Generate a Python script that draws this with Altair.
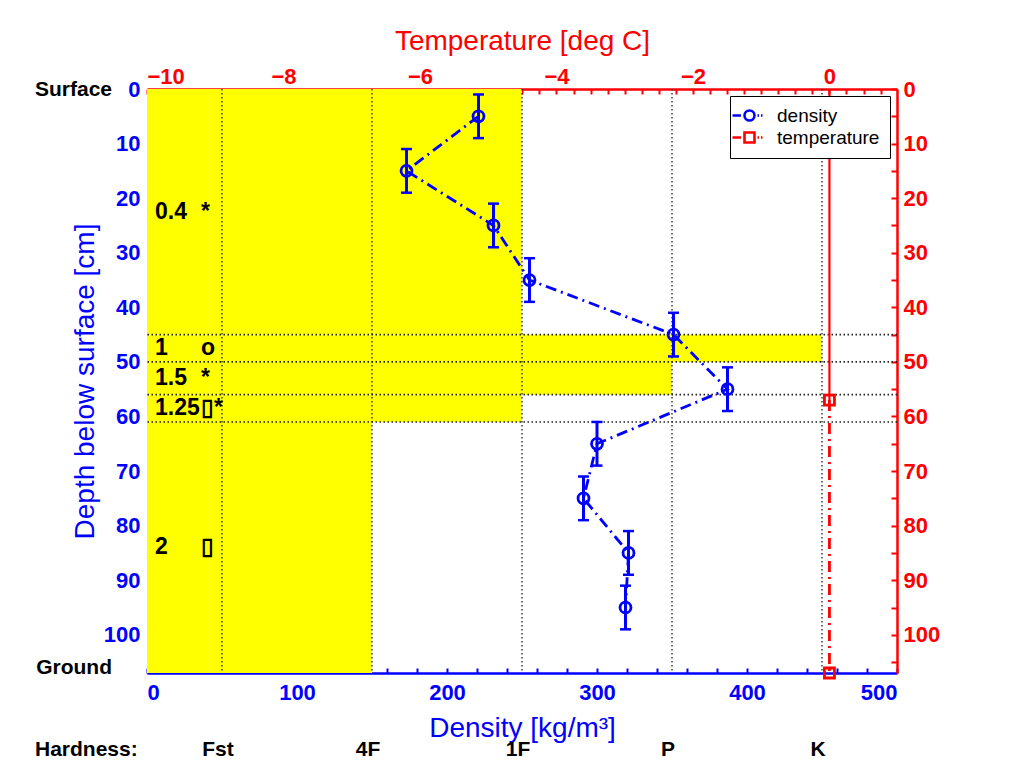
import altair as alt
import pandas as pd

# ---------------- data ----------------
depth_pts = [5, 15, 25, 35, 45, 55, 65, 75, 85, 95]
density_vals = [221, 173, 231, 255, 351, 387, 300, 291, 321, 319]
depth_err = [4, 4, 4, 4, 4, 4, 4, 4, 4, 4]

temp_depths = [57, 107]
temp_vals = [0.0, 0.0]
temp_top_depths = [0, 57]
temp_top_vals = [0.0, 0.0]

layer_top = [0, 45, 50, 56, 61]
layer_bottom = [45, 50, 56, 61, 107]
layer_hardness = [250, 450, 350, 250, 150]
grain_size = ["0.4", "1", "1.5", "1.25", "2"]
grain_shape = ["*", "o", "*", "\u25af*", "\u25af"]

hardness_names = ["Fst", "4F", "1F", "P", "K"]
hardness_vals = [50, 150, 250, 350, 450]
boundary_depths = [45, 50, 56, 61]

edge_names = ["Surface", "Ground"]
edge_depths = [0, 107]

series_names = ["density", "temperature"]

density_ticks = [0, 100, 200, 300, 400, 500]
depth_ticks = [0, 10, 20, 30, 40, 50, 60, 70, 80, 90, 100]
temp_ticks = [-10, -8, -6, -4, -2, 0]

# ---------------- style ----------------
BLUE = "#0000ff"
RED = "#ff0000"
FONT = "Liberation Sans"
W, H = 750, 584
LBL = 22      # tick label size
TTL = 28      # axis title size

xs = alt.Scale(domain=[0, 500], nice=False, zero=False)
ys = alt.Scale(domain=[0, 107], reverse=True, nice=False, zero=False)
ts = alt.Scale(domain=[-10, 0.99], nice=False, zero=False)

# ---------------- tables ----------------
layers_df = pd.DataFrame({
    "top": layer_top, "bottom": layer_bottom, "hard": layer_hardness,
    "size": grain_size, "shape": grain_shape,
})
layers_df["mid"] = (layers_df["top"] + layers_df["bottom"]) / 2

dens_df = pd.DataFrame({"depth": depth_pts, "density": density_vals, "err": depth_err})
dens_df["lo"] = dens_df["depth"] - dens_df["err"]
dens_df["hi"] = dens_df["depth"] + dens_df["err"]
caps_df = pd.concat([
    pd.DataFrame({"density": density_vals, "d": dens_df["lo"]}),
    pd.DataFrame({"density": density_vals, "d": dens_df["hi"]}),
])

temp_df = pd.DataFrame({"depth": temp_depths, "temp": temp_vals})
temp_top_df = pd.DataFrame({"depth": temp_top_depths, "temp": temp_top_vals})
hard_df = pd.DataFrame({"name": hardness_names, "val": hardness_vals})
bound_df = pd.DataFrame({"depth": boundary_depths})
edge_df = pd.DataFrame({"name": edge_names, "depth": edge_depths})
leg_df = pd.DataFrame({"series": series_names})

# ---------------- axes ----------------
ax_bottom = alt.Axis(orient="bottom", values=density_ticks, grid=False, ticks=False,
                     labelColor=BLUE, labelFont=FONT, labelFontSize=LBL, labelFontWeight="bold",
                     labelPadding=9, domainColor=BLUE, domainWidth=2.5,
                     title="Density [kg/m\u00b3]", titleColor=BLUE, titleFont=FONT,
                     titleFontSize=TTL, titleFontWeight="normal", titlePadding=11)
ax_left = alt.Axis(orient="left", values=depth_ticks, grid=False, ticks=False,
                   labelColor=BLUE, labelFont=FONT, labelFontSize=LBL, labelFontWeight="bold",
                   labelPadding=7, domainColor=BLUE, domainWidth=1,
                   title="Depth below surface [cm]", titleColor=BLUE, titleFont=FONT,
                   titleFontSize=TTL, titleFontWeight="normal", titlePadding=4)
ax_bottom_ticks = alt.Axis(orient="bottom", values=list(range(0, 501, 20)), grid=False,
                           labels=False, domain=False, tickSize=5, tickColor=BLUE,
                           tickWidth=2, offset=-5, title=None)
ax_top = alt.Axis(orient="top", values=temp_ticks, grid=False, ticks=False,
                  labelColor=RED, labelFont=FONT, labelFontSize=LBL, labelFontWeight="bold",
                  labelPadding=1, domainColor=RED, domainWidth=2.5,
                  title="Temperature [deg C]", titleColor=RED, titleFont=FONT,
                  titleFontSize=TTL, titleFontWeight="normal", titlePadding=10)
ax_top_ticks = alt.Axis(orient="top", values=[-10 + 0.25 * i for i in range(44)], grid=False,
                        labels=False, domain=False, tickSize=5, tickColor=RED,
                        tickWidth=2, offset=-5, title=None)
ax_right = alt.Axis(orient="right", values=depth_ticks, grid=False, ticks=False,
                    labelColor=RED, labelFont=FONT, labelFontSize=LBL, labelFontWeight="bold",
                    labelPadding=6, domainColor=RED, domainWidth=2.5, title=None)
ax_right_ticks = alt.Axis(orient="right", values=list(range(0, 107, 5)), grid=False,
                          labels=False, domain=False, tickSize=6, tickColor=RED,
                          tickWidth=2, offset=-6, title=None)

# ---------------- layers ----------------
rects = alt.Chart(layers_df).mark_rect(color="#ffff00").encode(
    x=alt.X("zero:Q", scale=xs, axis=ax_bottom),
    x2="hard:Q",
    y=alt.Y("top:Q", scale=ys, axis=ax_left),
    y2="bottom:Q",
).transform_calculate(zero="0")

vgrid = alt.Chart(hard_df).mark_rule(color="#222222", strokeDash=[1.5, 2.5], strokeWidth=1.3).encode(
    x=alt.X("val:Q", scale=xs, axis=ax_bottom_ticks)
)

hgrid = alt.Chart(bound_df).mark_rule(color="#222222", strokeDash=[1.5, 2.5], strokeWidth=1.6).encode(
    y=alt.Y("depth:Q", scale=ys, axis=ax_right_ticks)
)

dens_line = alt.Chart(dens_df).mark_line(color=BLUE, strokeWidth=2.8, strokeDash=[11, 5, 2, 5]).encode(
    x=alt.X("density:Q", scale=xs, axis=None),
    y=alt.Y("depth:Q", scale=ys, axis=None),
    order="depth:Q",
)

err_rules = alt.Chart(dens_df).mark_rule(color=BLUE, strokeWidth=3).encode(
    x=alt.X("density:Q", scale=xs, axis=None),
    y=alt.Y("lo:Q", scale=ys, axis=None),
    y2="hi:Q",
)

caps = alt.Chart(caps_df).mark_tick(color=BLUE, orient="horizontal", size=11, thickness=2.5,
                                    opacity=1).encode(
    x=alt.X("density:Q", scale=xs, axis=None),
    y=alt.Y("d:Q", scale=ys, axis=None),
)

dens_pts = alt.Chart(dens_df).mark_point(shape="circle", filled=False, color=BLUE, size=120,
                                         strokeWidth=2.8, opacity=1).encode(
    x=alt.X("density:Q", scale=xs, axis=None),
    y=alt.Y("depth:Q", scale=ys, axis=None),
)

temp_top_line = alt.Chart(temp_top_df).mark_line(color=RED, strokeWidth=2.2).encode(
    x=alt.X("temp:Q", scale=ts, axis=ax_top),
    y=alt.Y("depth:Q", scale=ys, axis=ax_right),
    order="depth:Q",
)

temp_line = alt.Chart(temp_df).mark_line(color=RED, strokeWidth=2.8, strokeDash=[11, 5, 2, 5]).encode(
    x=alt.X("temp:Q", scale=ts, axis=ax_top_ticks),
    y=alt.Y("depth:Q", scale=ys, axis=None),
    order="depth:Q",
)

temp_pts = alt.Chart(temp_df).mark_point(shape="square", filled=False, color=RED, size=100,
                                         strokeWidth=2.8, opacity=1, clip=False).encode(
    x=alt.X("temp:Q", scale=ts, axis=None),
    y=alt.Y("depth:Q", scale=ys, axis=None),
)

size_text = alt.Chart(layers_df).mark_text(align="left", baseline="middle", font=FONT,
                                           fontSize=23, fontWeight="bold", color="black").encode(
    x=alt.value(8),
    y=alt.Y("mid:Q", scale=ys, axis=None),
    text="size:N",
)

shape_text = alt.Chart(layers_df).mark_text(align="left", baseline="middle", font=FONT,
                                            fontSize=23, fontWeight="bold", color="black").encode(
    x=alt.value(54),
    y=alt.Y("mid:Q", scale=ys, axis=None),
    text="shape:N",
)

surface_text = alt.Chart(edge_df.iloc[:1]).mark_text(align="right", baseline="middle", font=FONT,
                                                    fontSize=21, fontWeight="bold", color="black",
                                                    dy=1).encode(
    x=alt.value(-35),
    y=alt.Y("depth:Q", scale=ys, axis=None),
    text="name:N",
)
ground_text = alt.Chart(edge_df.iloc[1:]).mark_text(align="right", baseline="middle", font=FONT,
                                                   fontSize=21, fontWeight="bold", color="black",
                                                   dy=-5).encode(
    x=alt.value(-35),
    y=alt.Y("depth:Q", scale=ys, axis=None),
    text="name:N",
)

hard_title = alt.Chart(pd.DataFrame({"t": ["Hardness:"]})).mark_text(
    align="left", baseline="middle", font=FONT, fontSize=21, fontWeight="bold", color="black"
).encode(x=alt.value(-112), y=alt.value(H + 77), text="t:N")

hard_text = alt.Chart(hard_df).mark_text(align="center", baseline="middle", font=FONT,
                                         fontSize=21, fontWeight="bold", color="black", dx=-4).encode(
    x=alt.X("val:Q", scale=xs, axis=None),
    y=alt.value(H + 77),
    text="name:N",
)

dens_sym = "M-3.4,0L-1.7,0M1,0A1,1 0 1,1 -1,0A1,1 0 1,1 1,0M1.6,0L1.9,0M2.3,0L2.6,0"
temp_sym = "M-3.4,0L-1.7,0M-1,-1L1,-1L1,1L-1,1ZM1.6,0L1.9,0M2.3,0L2.6,0"
leg = alt.Legend(title=None, orient="top-right", offset=7, padding=10,
                 strokeColor="black", fillColor="white",
                 labelFont=FONT, labelFontSize=19, labelColor="black",
                 symbolSize=100, symbolStrokeWidth=2.6, labelOffset=18, rowPadding=1)
legend_layer = alt.Chart(leg_df).mark_point(filled=False, clip=True, opacity=1).encode(
    x=alt.value(-200), y=alt.value(-200),
    color=alt.Color("series:N", scale=alt.Scale(domain=series_names, range=[BLUE, RED]), legend=leg),
    shape=alt.Shape("series:N", scale=alt.Scale(domain=series_names, range=[dens_sym, temp_sym]), legend=leg),
)

chart = alt.layer(
    rects, vgrid, hgrid, err_rules, caps, dens_line, dens_pts,
    temp_top_line, temp_line, temp_pts, size_text, shape_text, surface_text, ground_text,
    hard_title, hard_text, legend_layer,
).resolve_scale(
    x="independent", y="independent"
).properties(
    width=W, height=H, background="white",
    padding={"left": 26, "top": 19, "right": 5, "bottom": 5},
).configure_view(stroke=None)

chart.save("out.html", embed_options={"renderer": "svg", "actions": False})
